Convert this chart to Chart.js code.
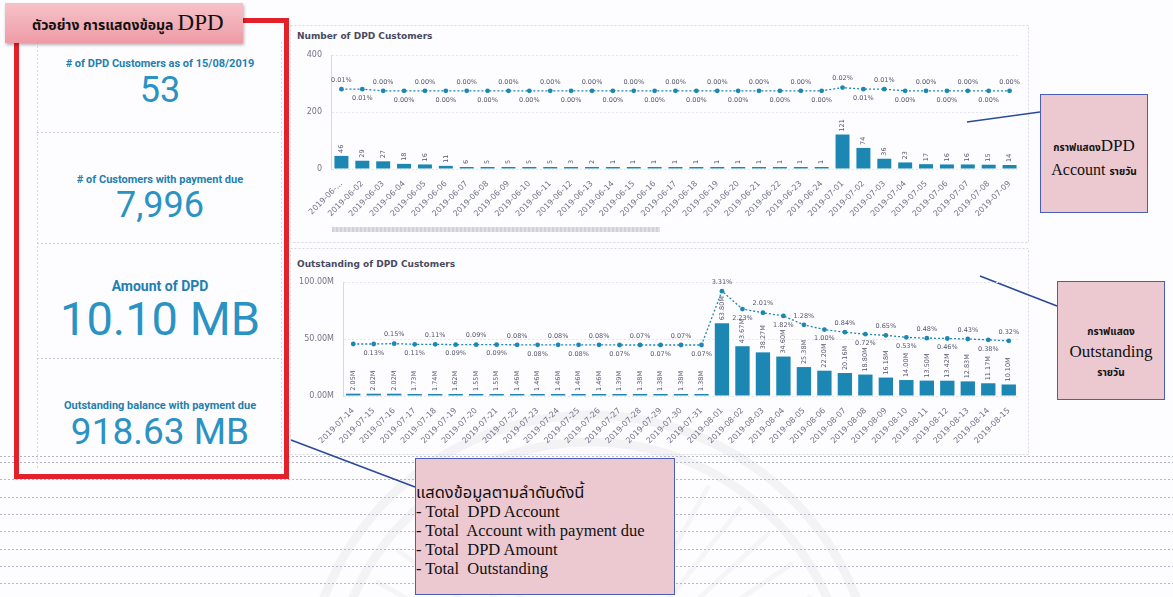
<!DOCTYPE html>
<html lang="th">
<head>
<meta charset="UTF-8">
<title>DPD dashboard</title>
<script src="https://cdn.jsdelivr.net/npm/chart.js"></script>
<style>
  body { margin: 0; width: 1173px; height: 597px; overflow: hidden; background: #fdfdff; position: relative;
         font-family: "Noto Sans Thai", "Noto Sans", Roboto, sans-serif; }
  .abs { position: absolute; }
  #deco { position: absolute; left: 0; top: 0; }
  .redbox { left: 14px; top: 18px; width: 275px; height: 461px; border: 5px solid #e3212b; box-sizing: border-box; }
  .header { left: 5px; top: 3px; width: 238px; height: 40px; background: linear-gradient(#f6c3c9, #ee9ba6);
            box-shadow: 1px 2px 3px rgba(0,0,0,0.3); line-height: 40px; padding-left: 27px; box-sizing: border-box;
            color: #111; white-space: nowrap; }
  .header .th { font-size: 14px; font-weight: 700; }
  .header .en { font-family: "Liberation Serif", serif; font-size: 23px; }
  .kpi { left: 40px; width: 240px; text-align: center; font-family: Roboto, sans-serif; white-space: nowrap; }
  .kt { color: #1f7fb0; font-weight: 700; font-size: 11px; }
  .kv { color: #2b92c4; font-weight: 400; }
  .note { background: #ecc8d0; border: 1.5px solid #4b5fb0; box-sizing: border-box; color: #111;
          font-family: "Liberation Serif", "Noto Sans Thai", serif; }
  .note .small { font-family: "Noto Sans Thai", "Noto Sans", sans-serif; font-size: 10px; font-weight: 700; }
  .ctitle { font-family: "DejaVu Sans", sans-serif; font-weight: 700; font-size: 9px; color: #4a4a5e; }
  .scroll { left: 332px; top: 227px; width: 328px; height: 5px; background: repeating-linear-gradient(90deg, #cfd0da 0 2px, #dfe0e8 2px 4px); }
</style>
</head>
<body>
<svg id="deco" width="1173" height="597">
  <g fill="none" stroke="#000" stroke-opacity="0.04" stroke-width="9">
    <circle cx="590" cy="700" r="285"/>
    <circle cx="590" cy="700" r="258"/>
  </g>
  <g stroke="#000" stroke-opacity="0.03" stroke-width="5" id="rays"></g>
  <g stroke="#b4b6c8" stroke-width="1" stroke-dasharray="2 2" id="rules"></g>
  <g fill="none" stroke="#d6d7e2" stroke-width="1" stroke-dasharray="2 2">
    <rect x="290.5" y="25.5" width="738" height="217"/>
    <rect x="290.5" y="248.5" width="738" height="206"/>
    <line x1="37.5" y1="42" x2="37.5" y2="470"/>
    <line x1="281.5" y1="42" x2="281.5" y2="470"/>
    <line x1="37" y1="132.5" x2="282" y2="132.5" stroke="#c8c9d6"/>
    <line x1="37" y1="243.5" x2="282" y2="243.5" stroke="#c8c9d6"/>
    <line x1="37" y1="358.5" x2="282" y2="358.5" stroke="#c8c9d6"/>
  </g>
  <g stroke="#2a4a9a" stroke-width="1.6">
    <line x1="967" y1="122" x2="1040" y2="112"/>
    <line x1="980" y1="276" x2="1057" y2="306"/>
    <line x1="291" y1="440" x2="415" y2="487"/>
  </g>
</svg>

<div class="abs redbox"></div>
<div class="abs header"><span class="th">ตัวอย่าง การแสดงข้อมูล</span> <span class="en">DPD</span></div>

<div class="abs kpi kt" style="top:57px">&#35; of DPD Customers as of 15/08/2019</div>
<div class="abs kpi kv" style="top:69px;font-size:36px">53</div>
<div class="abs kpi kt" style="top:173px"># of Customers with payment due</div>
<div class="abs kpi kv" style="top:184px;font-size:36px">7,996</div>
<div class="abs kpi kt" style="top:278px;font-size:14px">Amount of DPD</div>
<div class="abs kpi kv" style="top:291px;font-size:47px">10.10 MB</div>
<div class="abs kpi kt" style="top:399px">Outstanding balance with payment due</div>
<div class="abs kpi kv" style="top:410px;font-size:37px">918.63 MB</div>

<div class="abs ctitle" style="left:297px;top:31px">Number of DPD Customers</div>
<div class="abs" style="left:290px;top:25px;width:740px;height:215px"><canvas id="dpdCount"></canvas></div>
<div class="abs scroll"></div>

<div class="abs ctitle" style="left:297px;top:259px">Outstanding of DPD Customers</div>
<div class="abs" style="left:290px;top:250px;width:740px;height:205px"><canvas id="dpdOutstanding"></canvas></div>

<div class="abs note" style="left:1040px;top:94px;width:108px;height:119px;text-align:center;padding-top:40px;line-height:21px">
  <span class="small">กราฟแสดง</span><span style="font-size:17px">DPD</span><br>
  <span style="font-size:16px">Account</span> <span class="small">รายวัน</span>
</div>
<div class="abs note" style="left:1057px;top:281px;width:108px;height:119px;text-align:center;padding-top:38px;line-height:19px">
  <span class="small">กราฟแสดง</span><br>
  <span style="font-size:17px">Outstanding</span><br>
  <span class="small">รายวัน</span>
</div>
<div class="abs note" style="left:415px;top:458px;width:260px;height:137px;padding:24px 0 0 0;font-size:16.5px;line-height:19px;white-space:pre">แสดงข้อมูลตามลำดับดังนี้
- Total  DPD Account
- Total  Account with payment due
- Total  DPD Amount
- Total  Outstanding</div>

<script>
// ---- data ----
const countDates = ['2019-06-01','2019-06-02','2019-06-03','2019-06-04','2019-06-05','2019-06-06','2019-06-07',
  '2019-06-08','2019-06-09','2019-06-10','2019-06-11','2019-06-12','2019-06-13','2019-06-14','2019-06-15',
  '2019-06-16','2019-06-17','2019-06-18','2019-06-19','2019-06-20','2019-06-21','2019-06-22','2019-06-23',
  '2019-06-24','2019-07-01','2019-07-02','2019-07-03','2019-07-04','2019-07-05','2019-07-06','2019-07-07',
  '2019-07-08','2019-07-09'];
const dpdCustomers = [46,29,27,18,16,11,6,5,5,5,5,3,2,1,1,1,1,1,1,1,1,1,1,1,121,74,36,23,17,16,16,15,14];
const dpdCustomerPct = [0.01,0.01,0.00,0.00,0.00,0.00,0.00,0.00,0.00,0.00,0.00,0.00,0.00,0.00,0.00,0.00,0.00,
  0.00,0.00,0.00,0.00,0.00,0.00,0.00,0.02,0.01,0.01,0.00,0.00,0.00,0.00,0.00,0.00];
const countTicks = [0, 200, 400];

const outDates = ['2019-07-14','2019-07-15','2019-07-16','2019-07-17','2019-07-18','2019-07-19','2019-07-20',
  '2019-07-21','2019-07-22','2019-07-23','2019-07-24','2019-07-25','2019-07-26','2019-07-27','2019-07-28',
  '2019-07-29','2019-07-30','2019-07-31','2019-08-01','2019-08-02','2019-08-03','2019-08-04','2019-08-05',
  '2019-08-06','2019-08-07','2019-08-08','2019-08-09','2019-08-10','2019-08-11','2019-08-12','2019-08-13',
  '2019-08-14','2019-08-15'];
const outstandingM = [2.05,2.02,2.02,1.73,1.74,1.62,1.55,1.55,1.46,1.46,1.46,1.46,1.46,1.39,1.38,1.38,1.38,1.38,
  63.80,43.67,38.27,34.60,25.38,22.20,20.16,18.80,16.18,14.00,13.50,13.42,12.83,11.17,10.10];
const outstandingPct = [0.13,0.13,0.15,0.11,0.11,0.09,0.09,0.09,0.08,0.08,0.08,0.08,0.08,0.07,0.07,0.07,0.07,0.07,
  3.31,2.23,2.01,1.82,1.28,1.00,0.84,0.72,0.65,0.53,0.48,0.46,0.43,0.38,0.32];
const outTicks = [0, 50, 100];

// ---- page decoration (ruled lines, watermark rays) ----
const rules = document.getElementById('rules');
[456, 462, 479, 497, 514, 531, 549, 566, 583].forEach(y => {
  const l = document.createElementNS('http://www.w3.org/2000/svg', 'line');
  l.setAttribute('x1', 0); l.setAttribute('x2', 1173);
  l.setAttribute('y1', y + 0.5); l.setAttribute('y2', y + 0.5);
  rules.appendChild(l);
});
const rays = document.getElementById('rays');
for (let a = 200; a <= 340; a += 9) {
  const r = a * Math.PI / 180, l = document.createElementNS('http://www.w3.org/2000/svg', 'line');
  l.setAttribute('x1', 590 + Math.cos(r) * 120); l.setAttribute('y1', 700 + Math.sin(r) * 120);
  l.setAttribute('x2', 590 + Math.cos(r) * 245); l.setAttribute('y2', 700 + Math.sin(r) * 245);
  rays.appendChild(l);
}

// ---- value labels drawn on bars and line points ----
function fmtValue(v, kind) {
  return kind === 'M' ? v.toFixed(2) + 'M' : String(v);
}
const valueLabels = {
  id: 'valueLabels',
  afterDatasetsDraw(chart, args, opts) {
    const ctx = chart.ctx;
    const skip = opts.skip || [];
    chart.data.datasets.forEach((ds, di) => {
      const meta = chart.getDatasetMeta(di);
      meta.data.forEach((el, i) => {
        const v = ds.data[i];
        ctx.save();
        ctx.fillStyle = '#55566a';
        ctx.font = '6.5px "DejaVu Sans"';
        if (meta.type === 'bar') {
          ctx.translate(el.x, el.y - 3);
          ctx.rotate(-Math.PI / 2);
          ctx.textAlign = 'left';
          ctx.textBaseline = 'middle';
          ctx.fillText(fmtValue(v, opts.fmt), 0, 0);
        } else if (!skip.includes(i)) {
          ctx.textAlign = 'center';
          ctx.textBaseline = 'middle';
          ctx.fillText(v.toFixed(2) + '%', el.x, el.y + (i % 2 === 0 ? -9 : 9));
        }
        ctx.restore();
      });
    });
  }
};
Chart.register(valueLabels);

const tickFont = { family: 'DejaVu Sans', size: 8 };
const tickColor = '#737488';
const teal = '#1c87b3';

function comboOptions(cfg) {
  return {
    responsive: true,
    maintainAspectRatio: false,
    animation: false,
    layout: { padding: cfg.pad },
    plugins: {
      legend: { display: false },
      tooltip: { enabled: false },
      valueLabels: { fmt: cfg.fmt, skip: cfg.skip }
    },
    scales: {
      x: {
        grid: { display: false },
        border: { display: false },
        ticks: {
          font: tickFont, color: tickColor, autoSkip: false, minRotation: 45, maxRotation: 45, padding: 2,
          callback: function (v, i) {
            const l = this.getLabelForValue(v);
            return cfg.firstLabel && i === 0 ? cfg.firstLabel : l;
          }
        },
        afterFit(s) { s.height = cfg.xHeight; }
      },
      y: {
        min: cfg.ticks[0], max: cfg.ticks[cfg.ticks.length - 1],
        afterBuildTicks(s) { s.ticks = cfg.ticks.map(v => ({ value: v })); },
        grid: { color: '#e6e6ee', drawTicks: false },
        border: { display: true, color: '#d8d8e2', dash: [2, 2] },
        ticks: { font: tickFont, color: tickColor, padding: 9,
                 callback: v => cfg.fmt === 'M' ? v.toFixed(2) + 'M' : String(v) },
        afterFit(s) { s.width = cfg.yWidth; }
      },
      y1: { display: false, min: cfg.lineRange[0], max: cfg.lineRange[1] }
    }
  };
}

function comboData(labels, bars, pct, barPct) {
  return {
    labels: labels,
    datasets: [
      { type: 'line', data: pct, yAxisID: 'y1', borderColor: teal, borderWidth: 1.3,
        borderDash: [2, 2], pointRadius: 2.4, pointBackgroundColor: teal, pointBorderWidth: 0, order: 0 },
      { type: 'bar', data: bars, yAxisID: 'y', backgroundColor: teal, barPercentage: barPct,
        categoryPercentage: 1, minBarLength: 2, order: 1 }
    ]
  };
}

new Chart(document.getElementById('dpdCount'), {
  data: comboData(countDates, dpdCustomers, dpdCustomerPct, 0.67),
  options: comboOptions({ pad: { top: 30, right: 10, left: 0, bottom: 0 }, xHeight: 71, yWidth: 41,
    ticks: countTicks, fmt: 'int', skip: [], lineRange: [-0.48, 0.22], firstLabel: '2019-06-...' })
});

new Chart(document.getElementById('dpdOutstanding'), {
  data: comboData(outDates, outstandingM, outstandingPct, 0.7),
  options: comboOptions({ pad: { top: 32, right: 11, left: 0, bottom: 0 }, xHeight: 59, yWidth: 53,
    ticks: outTicks, fmt: 'M', skip: [0], lineRange: [-3.0, 3.86], firstLabel: null })
});
</script>
</body>
</html>
